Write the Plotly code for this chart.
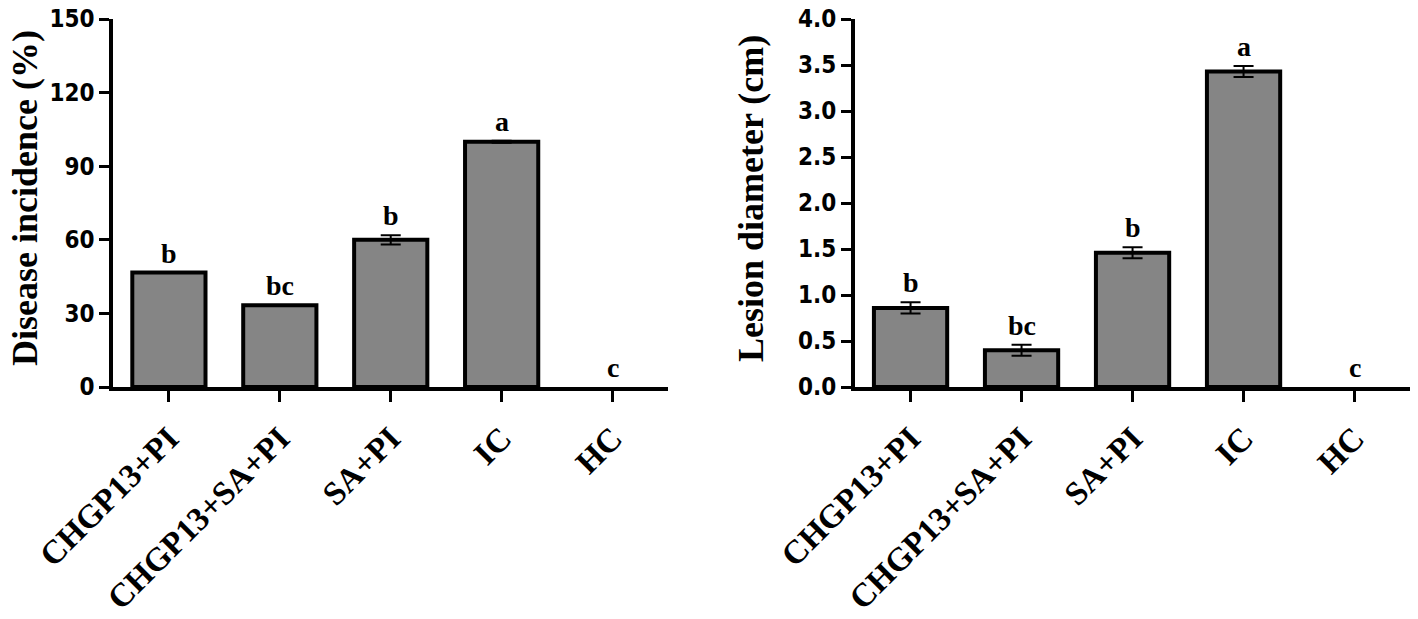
import plotly.graph_objs as go

treatments = ['CHGP13+PI', 'CHGP13+SA+PI', 'SA+PI', 'IC', 'HC']

incidence = [46.67, 33.33, 60.0, 100.0, 0.0]
incidence_err = [0.0, 0.0, 1.9, 0.4, 0.0]
incidence_letters = ['b', 'bc', 'b', 'a', 'c']

diameter = [0.86, 0.40, 1.46, 3.43, 0.0]
diameter_err = [0.06, 0.06, 0.06, 0.06, 0.0]
diameter_letters = ['b', 'bc', 'b', 'a', 'c']

BAR_GREY = '#858585'
SERIF = 'Liberation Serif, Times New Roman, serif'
NARROW = 'Liberation Sans Narrow, Arial Narrow, DejaVu Sans Condensed, sans-serif'


def bar_trace(values, errors, xaxis, yaxis):
    # no outline on empty bars, otherwise a zero bar shows as a thick stub
    outline = [4 if v > 0 else 0 for v in values]
    # the empty HC bar is last, so leaving its error out means no cap is drawn
    shown_err = [e for v, e in zip(values, errors) if v > 0]
    return go.Bar(
        x=treatments, y=values, width=0.66,
        marker=dict(color=BAR_GREY, line=dict(color='black', width=outline)),
        error_y=dict(type='data', array=shown_err, visible=True,
                     color='black', thickness=2, width=10),
        xaxis=xaxis, yaxis=yaxis, showlegend=False, hoverinfo='skip',
    )


def letter_notes(values, errors, letters, xref, yref):
    notes = []
    for t, v, e, s in zip(treatments, values, errors, letters):
        notes.append(dict(
            x=t, y=v + e, xref=xref, yref=yref, text=s, showarrow=False,
            yanchor='bottom', yshift=2,
            font=dict(family=SERIF, size=28, color='black', weight='bold'),
        ))
    return notes


fig = go.Figure()
fig.add_trace(bar_trace(incidence, incidence_err, 'x', 'y'))
fig.add_trace(bar_trace(diameter, diameter_err, 'x2', 'y2'))

x_common = dict(
    showline=True, linecolor='black', linewidth=4, automargin=False,
    ticks='outside', ticklen=11, tickwidth=3, tickcolor='black',
    tickangle=-45, ticklabelstandoff=4,
    showgrid=False, zeroline=False, range=[-0.5, 4.5],
    tickfont=dict(family=SERIF, size=33, color='black', weight='bold'),
)
y_common = dict(
    showline=True, linecolor='black', linewidth=4, automargin=False,
    ticks='outside', ticklen=10, tickwidth=3, tickcolor='black',
    showgrid=False, zeroline=False,
    tickfont=dict(family=NARROW, size=24, color='black', weight='bold'),
)

notes = []
notes += letter_notes(incidence, incidence_err, incidence_letters, 'x', 'y')
notes += letter_notes(diameter, diameter_err, diameter_letters, 'x2', 'y2')
title_font = dict(family=SERIF, size=36, color='black', weight='bold')
notes.append(dict(x=25 / 1418, y=1 - 198 / 619, xref='paper', yref='paper',
                  xanchor='center', yanchor='middle', textangle=-90,
                  text='Disease incidence (%)', showarrow=False, font=title_font))
notes.append(dict(x=751 / 1418, y=1 - 198 / 619, xref='paper', yref='paper',
                  xanchor='center', yanchor='middle', textangle=-90,
                  text='Lesion diameter (cm)', showarrow=False, font=title_font))

fig.update_layout(
    width=1418, height=619,
    margin=dict(l=0, r=0, t=0, b=0, autoexpand=False),
    plot_bgcolor='white', paper_bgcolor='white',
    xaxis=dict(domain=[0.080, 0.4711], anchor='y', **x_common),
    yaxis=dict(domain=[0.3748, 0.9693], anchor='x', range=[0, 150],
               tickvals=[0, 30, 60, 90, 120, 150], **y_common),
    xaxis2=dict(domain=[0.603, 0.9944], anchor='y2', **x_common),
    yaxis2=dict(domain=[0.3748, 0.9693], anchor='x2', range=[0, 4],
                tickvals=[0, 0.5, 1, 1.5, 2, 2.5, 3, 3.5, 4], tickformat='.1f',
                **y_common),
    annotations=notes,
)

fig.write_html('out.html', config={'displayModeBar': False},
               post_script="document.body.style.margin='0';")
